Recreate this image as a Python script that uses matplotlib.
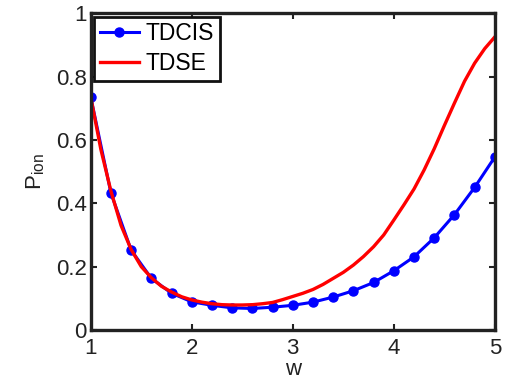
import matplotlib
matplotlib.use('Agg')
import matplotlib.pyplot as plt

plt.rcParams['font.family'] = ['Liberation Sans', 'DejaVu Sans']
plt.rcParams['mathtext.fontset'] = 'custom'
plt.rcParams['mathtext.rm'] = 'Liberation Sans'

# TDCIS points, every 0.2 in w
w_cis = [1.0, 1.2, 1.4, 1.6, 1.8, 2.0, 2.2, 2.4, 2.6, 2.8, 3.0,
         3.2, 3.4, 3.6, 3.8, 4.0, 4.2, 4.4, 4.6, 4.8, 5.0]
p_cis = [0.735, 0.432, 0.252, 0.163, 0.116, 0.089, 0.078, 0.070, 0.068, 0.072, 0.078,
         0.088, 0.104, 0.124, 0.150, 0.187, 0.231, 0.291, 0.364, 0.450, 0.546]

# TDSE curve, read every 0.1 in w
w_se = [1.0, 1.1, 1.2, 1.3, 1.4, 1.5, 1.6, 1.7, 1.8, 1.9, 2.0,
        2.1, 2.2, 2.3, 2.4, 2.5, 2.6, 2.7, 2.8, 2.9, 3.0,
        3.1, 3.2, 3.3, 3.4, 3.5, 3.6, 3.7, 3.8, 3.9, 4.0,
        4.1, 4.2, 4.3, 4.4, 4.5, 4.6, 4.7, 4.8, 4.9, 5.0]
p_se = [0.735, 0.570, 0.438, 0.330, 0.254, 0.200, 0.165, 0.138, 0.120, 0.105, 0.095,
        0.088, 0.083, 0.080, 0.079, 0.079, 0.080, 0.083, 0.087, 0.096, 0.106,
        0.116, 0.128, 0.144, 0.163, 0.182, 0.205, 0.232, 0.263, 0.300, 0.347,
        0.395, 0.445, 0.505, 0.572, 0.645, 0.716, 0.785, 0.842, 0.888, 0.925]

fig = plt.figure(figsize=(5.07, 3.86), dpi=100)
ax = fig.add_axes([0.179, 0.145, 0.797, 0.821])

ax.plot(w_cis, p_cis, '-o', color='#0000ff', lw=2.2, ms=6.5, label='TDCIS')
ax.plot(w_se, p_se, '-', color='#ff0000', lw=2.4, label='TDSE')

ax.set_xlim(1, 5)
ax.set_ylim(0, 1)
ax.set_xticks([1, 2, 3, 4, 5])
ax.set_yticks([0, 0.2, 0.4, 0.6, 0.8, 1])
ax.set_yticklabels(['0', '0.2', '0.4', '0.6', '0.8', '1'])
ax.tick_params(direction='in', top=True, right=True, length=4, width=1.5,
               labelsize=16, colors='#222222')
ax.tick_params(axis='x', pad=6)
ax.tick_params(axis='y', pad=3)
for s in ax.spines.values():
    s.set_linewidth(2.4)
    s.set_color('#222222')

ax.set_xlabel('w', fontsize=16, color='#222222', labelpad=0)
ax.set_ylabel(r'P$_{\rm ion}$', fontsize=16, color='#222222', labelpad=6)

leg = ax.legend(loc='upper left', fontsize=16.5, fancybox=False, framealpha=1,
                borderaxespad=0.15, handlelength=1.7, handletextpad=0.3,
                borderpad=0.25, labelspacing=0.3)
leg.get_frame().set_edgecolor('#111111')
leg.get_frame().set_linewidth(2.0)

fig.savefig('out.png', dpi=100)
